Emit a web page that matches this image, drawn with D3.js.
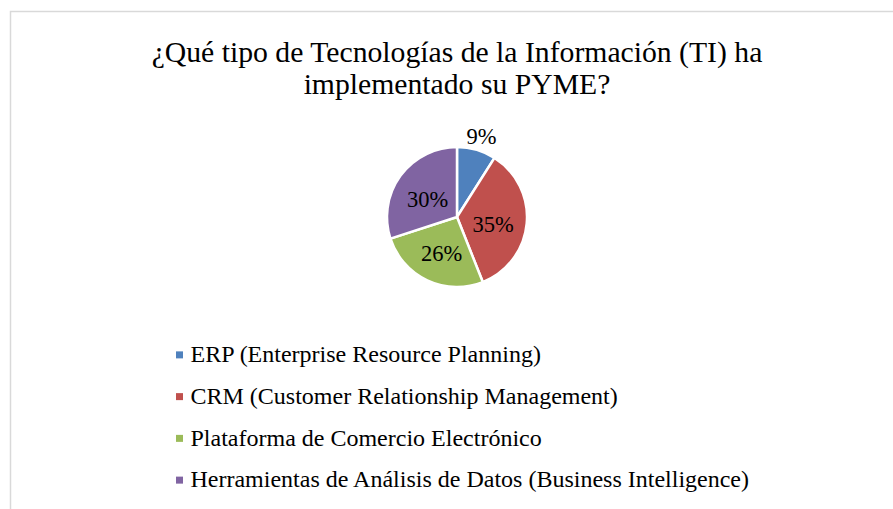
<!DOCTYPE html>
<html>
<head>
<meta charset="utf-8">
<script src="https://cdn.jsdelivr.net/npm/d3@7"></script>
<style>
  html, body { margin: 0; padding: 0; background: #fff; }
  svg { display: block; font-family: "Liberation Serif", "Times New Roman", serif; }
</style>
</head>
<body>
<script>
// datos del grafico
const titleLines = ['¿Qué tipo de Tecnologías de la Información (TI) ha', 'implementado su PYME?'];
const categories = [
  'ERP (Enterprise Resource Planning)',
  'CRM (Customer Relationship Management)',
  'Plataforma de Comercio Electrónico',
  'Herramientas de Análisis de Datos (Business Intelligence)'
];
const values = [9, 35, 26, 30];
const colors = ['#4f81bd', '#c0504d', '#9bbb59', '#8064a2'];

const width = 893, height = 509;
const cx = 457, cy = 217, radius = 70;

const svg = d3.select('body').append('svg')
    .attr('width', width)
    .attr('height', height);

// marco
svg.append('path')
    .attr('d', `M10.5,${height} V11.5 H${width}`)
    .attr('fill', 'none')
    .attr('stroke', '#d9d9d9')
    .attr('stroke-width', 1.5);

svg.append('g').selectAll('text')
    .data(titleLines)
    .join('text')
    .attr('x', cx)
    .attr('y', (d, i) => 62 + i * 32)
    .attr('text-anchor', 'middle')
    .style('font-size', '29.7px')
    .style('fill', '#000')
    .text(d => d);

const pie = d3.pie().sort(null).value(d => d);
const arcs = pie(values);

const arc = d3.arc().innerRadius(0).outerRadius(radius);
const labelArc = d3.arc().innerRadius(radius * 0.52).outerRadius(radius * 0.52);
const outerArc = d3.arc().innerRadius(radius + 18).outerRadius(radius + 18);

const g = svg.append('g').attr('transform', `translate(${cx},${cy})`);

g.selectAll('path.slice')
    .data(arcs)
    .join('path')
    .attr('class', 'slice')
    .attr('d', arc)
    .attr('fill', (d, i) => colors[i])
    .attr('stroke', '#fff')
    .attr('stroke-width', 2.5)
    .attr('stroke-linejoin', 'round');

const total = d3.sum(values);
g.selectAll('text.lbl')
    .data(arcs)
    .join('text')
    .attr('class', 'lbl')
    .attr('transform', (d, i) => {
      const p = i === 0 ? outerArc.centroid(d) : labelArc.centroid(d);
      return `translate(${p[0]},${p[1]})`;
    })
    .attr('text-anchor', 'middle')
    .attr('dy', '0.5em')
    .style('font-size', '22.5px')
    .style('fill', '#000')
    .text(d => Math.round(d.data / total * 100) + '%');

// leyenda
const legend = svg.append('g').attr('transform', 'translate(176,0)');
const ly = d3.scaleBand().domain(categories).range([334, 501]);
const row = legend.selectAll('g')
    .data(categories)
    .join('g')
    .attr('transform', d => `translate(0,${ly(d) + ly.bandwidth() / 2})`);
row.append('rect')
    .attr('x', 0).attr('y', -3.5)
    .attr('width', 7).attr('height', 7)
    .attr('fill', (d, i) => colors[i]);
row.append('text')
    .attr('x', 14.5)
    .attr('dy', '0.3em')
    .style('font-size', '24px')
    .style('fill', '#000')
    .text(d => d);
</script>
</body>
</html>
